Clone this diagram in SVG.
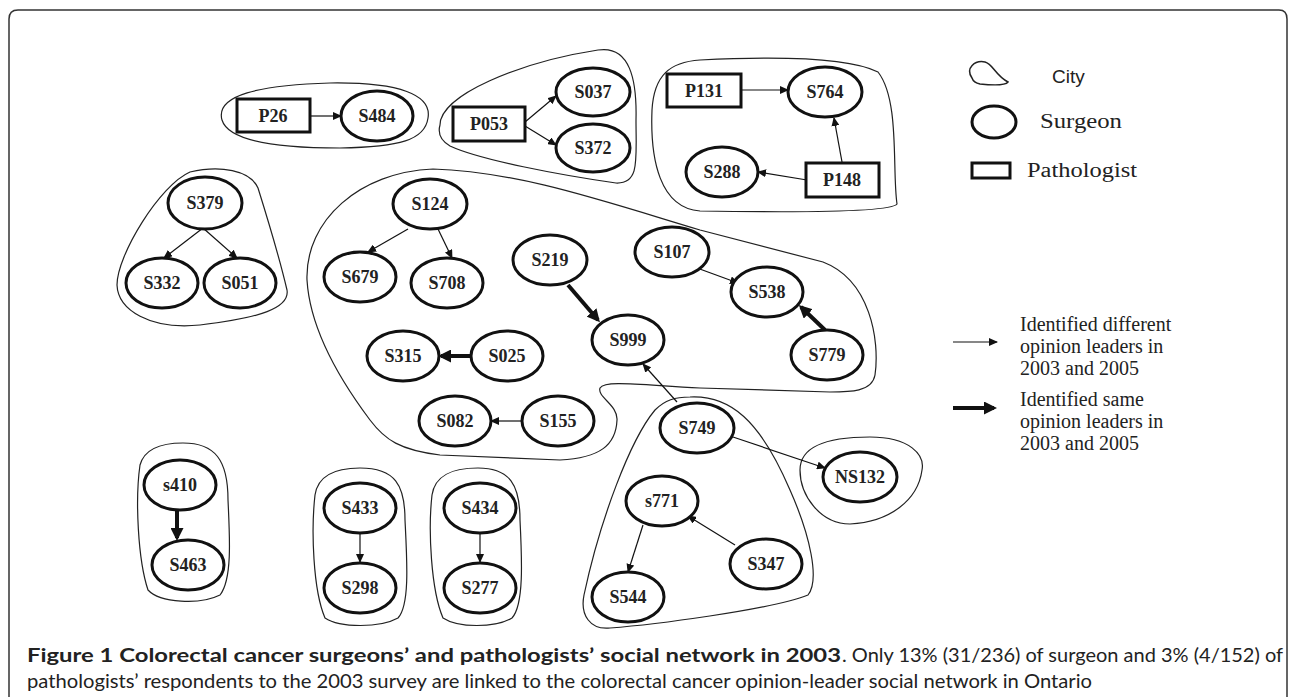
<svg xmlns="http://www.w3.org/2000/svg" width="1292" height="697" viewBox="0 0 1292 697">
<style>
.city{fill:none;stroke:#222;stroke-width:1.2}
.sur{fill:#fff;stroke:#111;stroke-width:3}
.pat{fill:#fff;stroke:#111;stroke-width:3}
.lbl{font-family:"Liberation Serif","Times New Roman",serif;font-weight:bold;font-size:18px;fill:#222;text-anchor:middle}
.thin{stroke:#111;stroke-width:1.2;fill:none;marker-end:url(#ah)}
.thick{stroke:#111;stroke-width:4;fill:none;marker-end:url(#ahT)}
.leg{font-family:"Liberation Serif","Times New Roman",serif;font-size:20px;fill:#222}
.cap{font-family:Lato,"Open Sans","Liberation Sans",Arial,sans-serif;font-size:19px;fill:#222}
</style>
<defs>
<marker id="ah" markerUnits="userSpaceOnUse" markerWidth="9" markerHeight="8" refX="8" refY="4" orient="auto">
<path d="M0,0 L9,4 L0,8 z" fill="#111"/>
</marker>
<marker id="ahT" markerUnits="userSpaceOnUse" markerWidth="13" markerHeight="13" refX="10" refY="6.5" orient="auto">
<path d="M0,0 L13,6.5 L0,13 z" fill="#111"/>
</marker>
</defs>
<rect width="1292" height="697" fill="#fff"/>
<path d="M9,697 L9,19 Q9,10 18,10 L1279,10 Q1287,10 1287,19 L1287,697" fill="none" stroke="#333" stroke-width="1.5"/>

<g id="cities">
<path class="city" d="M222,120 C215,95 260,85 330,83 C400,82 432,95 428,118 C425,140 400,147 340,148 C270,148 228,140 222,120 Z"/>
<path class="city" d="M440,125 C440,95 520,62 598,50 C630,45 637,80 636,120 C636,160 640,184 616,183 C560,175 480,160 450,146 C440,140 438,132 440,125 Z"/>
<path class="city" d="M700,60 C780,56 850,58 878,72 C900,100 892,170 897,204 C890,214 760,212 700,211 C660,208 650,160 652,110 C654,75 670,62 700,60 Z"/>
<path class="city" d="M190,172 C220,165 250,170 258,188 C268,220 280,260 287,290 C290,308 260,318 200,325 C150,330 118,310 117,285 C117,255 160,185 190,172 Z"/>
<path class="city" d="M433,169 C520,172 600,200 700,230 L823,262 C870,280 880,340 875,375 C872,392 850,392 830,392 L700,388 C640,385 605,380 600,388 C597,397 618,405 617,420 C616,445 600,458 560,460 L440,455 C400,450 385,440 370,420 C340,380 310,330 307,280 C305,220 360,172 433,169 Z"/>
<path class="city" d="M690,397 C730,395 760,420 790,490 C810,535 820,580 808,595 C770,610 650,625 610,628 C590,630 580,615 584,595 C600,520 630,440 655,410 C665,400 675,397 690,397 Z"/>
<path class="city" d="M800,470 C800,445 830,437 870,437 C910,437 925,455 922,470 C918,500 890,522 850,524 C820,524 800,495 800,470 Z"/>
<path class="city" d="M183,443 C215,443 228,460 228,500 C230,540 232,580 220,595 C200,605 160,603 148,590 C138,560 135,500 140,465 C145,447 165,443 183,443 Z"/>
<path class="city" d="M360,468 C395,468 405,485 405,520 C407,560 410,605 398,618 C380,628 340,628 325,618 C313,590 311,530 315,495 C318,475 335,468 360,468 Z"/>
<path class="city" d="M478,468 C510,468 520,485 520,520 C522,560 524,605 512,618 C495,628 458,628 443,618 C431,590 428,530 432,495 C435,475 452,468 478,468 Z"/>
</g>

<g id="connectors">
<line class="thin" x1="310" y1="116" x2="341" y2="116"/>
<line class="thin" x1="525" y1="122" x2="556" y2="96"/>
<line class="thin" x1="525" y1="126" x2="556" y2="145"/>
<line class="thin" x1="741" y1="90" x2="788" y2="90"/>
<line class="thin" x1="842" y1="162" x2="834" y2="118"/>
<line class="thin" x1="807" y1="180" x2="758" y2="172"/>
<line class="thin" x1="203" y1="228" x2="164" y2="258"/>
<line class="thin" x1="203" y1="228" x2="237" y2="258"/>
<line class="thin" x1="408" y1="229" x2="368" y2="252"/>
<line class="thin" x1="438" y1="229" x2="452" y2="258"/>
<line class="thick" x1="568" y1="285" x2="598" y2="320"/>
<line class="thick" x1="471" y1="356" x2="441" y2="356"/>
<line class="thin" x1="523" y1="421" x2="491" y2="421"/>
<line class="thin" x1="697" y1="268" x2="738" y2="283"/>
<line class="thick" x1="825" y1="330" x2="801" y2="307"/>
<line class="thin" x1="677" y1="402" x2="643" y2="364"/>
<line class="thin" x1="733" y1="437" x2="825" y2="468"/>
<line class="thin" x1="643" y1="525" x2="628" y2="572"/>
<line class="thin" x1="735" y1="545" x2="688" y2="516"/>
<line class="thick" x1="177" y1="510" x2="177" y2="538"/>
<line class="thin" x1="360" y1="534" x2="360" y2="562"/>
<line class="thin" x1="480" y1="534" x2="480" y2="562"/>
</g>

<g id="P26"><rect class="pat" x="237" y="99" width="73" height="33"/><text class="lbl" x="273" y="122">P26</text></g>
<g id="S484"><ellipse class="sur" cx="377" cy="116" rx="36" ry="25"/><text class="lbl" x="377" y="122">S484</text></g>
<g id="P053"><rect class="pat" x="453" y="107" width="72" height="34"/><text class="lbl" x="489" y="130">P053</text></g>
<g id="S037"><ellipse class="sur" cx="593" cy="92" rx="37" ry="24"/><text class="lbl" x="593" y="98">S037</text></g>
<g id="S372"><ellipse class="sur" cx="593" cy="148" rx="37" ry="24"/><text class="lbl" x="593" y="154">S372</text></g>
<g id="P131"><rect class="pat" x="667" y="74" width="74" height="33"/><text class="lbl" x="704" y="97">P131</text></g>
<g id="S764"><ellipse class="sur" cx="825" cy="92" rx="37" ry="25"/><text class="lbl" x="825" y="98">S764</text></g>
<g id="S288"><ellipse class="sur" cx="722" cy="172" rx="36" ry="25"/><text class="lbl" x="722" y="178">S288</text></g>
<g id="P148"><rect class="pat" x="806" y="163" width="73" height="34"/><text class="lbl" x="842" y="186">P148</text></g>

<g id="S379"><ellipse class="sur" cx="205" cy="203" rx="37" ry="26"/><text class="lbl" x="205" y="209">S379</text></g>
<g id="S332"><ellipse class="sur" cx="162" cy="283" rx="36" ry="25"/><text class="lbl" x="162" y="289">S332</text></g>
<g id="S051"><ellipse class="sur" cx="240" cy="283" rx="36" ry="25"/><text class="lbl" x="240" y="289">S051</text></g>

<g id="S124"><ellipse class="sur" cx="430" cy="204" rx="37" ry="25"/><text class="lbl" x="430" y="210">S124</text></g>
<g id="S679"><ellipse class="sur" cx="360" cy="277" rx="36" ry="25"/><text class="lbl" x="360" y="283">S679</text></g>
<g id="S708"><ellipse class="sur" cx="447" cy="283" rx="36" ry="25"/><text class="lbl" x="447" y="289">S708</text></g>
<g id="S219"><ellipse class="sur" cx="550" cy="260" rx="37" ry="25"/><text class="lbl" x="550" y="266">S219</text></g>
<g id="S999"><ellipse class="sur" cx="628" cy="340" rx="36" ry="25"/><text class="lbl" x="628" y="346">S999</text></g>
<g id="S107"><ellipse class="sur" cx="672" cy="252" rx="37" ry="25"/><text class="lbl" x="672" y="258">S107</text></g>
<g id="S538"><ellipse class="sur" cx="767" cy="292" rx="36" ry="25"/><text class="lbl" x="767" y="298">S538</text></g>
<g id="S779"><ellipse class="sur" cx="827" cy="355" rx="36" ry="25"/><text class="lbl" x="827" y="361">S779</text></g>
<g id="S315"><ellipse class="sur" cx="403" cy="356" rx="36" ry="25"/><text class="lbl" x="403" y="362">S315</text></g>
<g id="S025"><ellipse class="sur" cx="507" cy="356" rx="36" ry="25"/><text class="lbl" x="507" y="362">S025</text></g>
<g id="S082"><ellipse class="sur" cx="455" cy="421" rx="36" ry="25"/><text class="lbl" x="455" y="427">S082</text></g>
<g id="S155"><ellipse class="sur" cx="558" cy="421" rx="36" ry="25"/><text class="lbl" x="558" y="427">S155</text></g>

<g id="S749"><ellipse class="sur" cx="697" cy="428" rx="37" ry="25"/><text class="lbl" x="697" y="434">S749</text></g>
<g id="NS132"><ellipse class="sur" cx="860" cy="477" rx="37" ry="25"/><text class="lbl" x="860" y="483">NS132</text></g>
<g id="s771"><ellipse class="sur" cx="662" cy="501" rx="36" ry="25"/><text class="lbl" x="662" y="507">s771</text></g>
<g id="S347"><ellipse class="sur" cx="766" cy="564" rx="36" ry="25"/><text class="lbl" x="766" y="570">S347</text></g>
<g id="S544"><ellipse class="sur" cx="628" cy="597" rx="36" ry="25"/><text class="lbl" x="628" y="603">S544</text></g>

<g id="s410"><ellipse class="sur" cx="180" cy="485" rx="36" ry="25"/><text class="lbl" x="180" y="491">s410</text></g>
<g id="S463"><ellipse class="sur" cx="188" cy="565" rx="36" ry="25"/><text class="lbl" x="188" y="571">S463</text></g>
<g id="S433"><ellipse class="sur" cx="360" cy="508" rx="36" ry="25"/><text class="lbl" x="360" y="514">S433</text></g>
<g id="S298"><ellipse class="sur" cx="360" cy="588" rx="36" ry="25"/><text class="lbl" x="360" y="594">S298</text></g>
<g id="S434"><ellipse class="sur" cx="480" cy="508" rx="36" ry="25"/><text class="lbl" x="480" y="514">S434</text></g>
<g id="S277"><ellipse class="sur" cx="480" cy="588" rx="36" ry="25"/><text class="lbl" x="480" y="594">S277</text></g>

<g id="legend">
<path d="M972,78 C965,68 975,60 985,62 C993,64 995,75 1008,82 C1005,86 990,85 980,84 C975,83 973,81 972,78 Z" fill="none" stroke="#222" stroke-width="1.5"/>
<text x="1052" y="83" font-family="Liberation Sans, Arial, sans-serif" font-size="19" fill="#222">City</text>
<ellipse cx="994" cy="122" rx="22" ry="16" fill="none" stroke="#111" stroke-width="3"/>
<text class="leg" x="1040" y="128" font-size="22" textLength="82" lengthAdjust="spacingAndGlyphs">Surgeon</text>
<rect x="972" y="163" width="38" height="15" fill="none" stroke="#111" stroke-width="3"/>
<text class="leg" x="1027" y="177" font-size="22" textLength="110" lengthAdjust="spacingAndGlyphs">Pathologist</text>
<line class="thin" x1="953" y1="342" x2="997" y2="342"/>
<text class="leg" x="1020" y="331">Identified different</text>
<text class="leg" x="1020" y="353">opinion leaders in</text>
<text class="leg" x="1020" y="375">2003 and 2005</text>
<line class="thick" x1="953" y1="408" x2="994" y2="408"/>
<text class="leg" x="1020" y="406">Identified same</text>
<text class="leg" x="1020" y="428">opinion leaders in</text>
<text class="leg" x="1020" y="450">2003 and 2005</text>
</g>

<g id="caption">
<text class="cap" x="27" y="662" font-weight="bold" textLength="814" lengthAdjust="spacingAndGlyphs">Figure 1 Colorectal cancer surgeons’ and pathologists’ social network in 2003</text>
<text class="cap" x="842" y="662" textLength="441" lengthAdjust="spacingAndGlyphs">. Only 13% (31/236) of surgeon and 3% (4/152) of</text>
<text class="cap" x="27" y="688" textLength="1065" lengthAdjust="spacingAndGlyphs">pathologists’ respondents to the 2003 survey are linked to the colorectal cancer opinion-leader social network in Ontario</text>
</g>
</svg>
